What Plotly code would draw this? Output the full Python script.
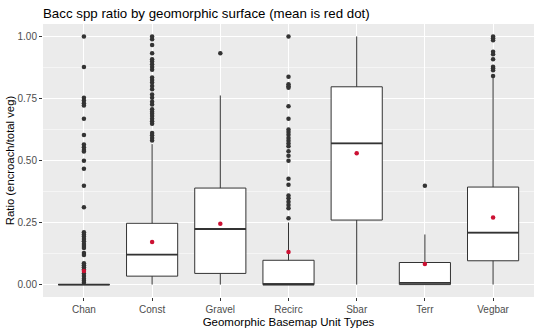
import plotly.graph_objects as go

# Geomorphic unit categories
units = ["Chan", "Const", "Gravel", "Recirc", "Sbar", "Terr", "Vegbar"]

# Box statistics per unit
q1 = [0.0, 0.034, 0.045, 0.0, 0.260, 0.0, 0.096]
median = [0.0, 0.121, 0.224, 0.0, 0.569, 0.007, 0.209]
q3 = [0.0, 0.247, 0.389, 0.098, 0.797, 0.089, 0.393]
lower_whisker = [0.0, 0.0, 0.0, 0.0, 0.0, 0.0, 0.0]
upper_whisker = [0.0, 0.566, 0.762, 0.250, 1.0, 0.202, 0.835]
mean = [0.055, 0.172, 0.245, 0.131, 0.529, 0.083, 0.270]

# Outlying observations per unit
outliers = {
    "Chan": [1.0, 0.877, 0.753, 0.742, 0.731, 0.722, 0.668, 0.603, 0.564, 0.553,
             0.542, 0.536, 0.499, 0.467, 0.398, 0.312, 0.211, 0.202, 0.194, 0.184,
             0.175, 0.164, 0.155, 0.147, 0.127, 0.119, 0.086, 0.078, 0.070, 0.061,
             0.045, 0.035, 0.024, 0.015, 0.007],
    "Const": [1.0, 0.989, 0.965, 0.932, 0.908, 0.899, 0.888, 0.877, 0.866, 0.834,
              0.824, 0.814, 0.800, 0.787, 0.766, 0.753, 0.737, 0.726, 0.706, 0.696,
              0.688, 0.679, 0.668, 0.658, 0.648, 0.611, 0.602, 0.591, 0.581],
    "Gravel": [0.932],
    "Recirc": [1.0, 0.837, 0.807, 0.799, 0.793, 0.719, 0.668, 0.625, 0.615, 0.604,
               0.591, 0.580, 0.569, 0.557, 0.537, 0.519, 0.499, 0.426, 0.402, 0.359,
               0.348, 0.334, 0.321, 0.308, 0.267],
    "Sbar": [],
    "Terr": [0.398],
    "Vegbar": [1.0, 0.993, 0.985, 0.938, 0.928, 0.908, 0.878, 0.872, 0.864, 0.840],
}

y_ticks = [0.0, 0.25, 0.5, 0.75, 1.0]
y_tick_text = ["0.00", "0.25", "0.50", "0.75", "1.00"]

BOX_WIDTH = 0.75
LINE = "#333333"

fig = go.Figure()

positions = list(range(len(units)))

# Boxes from precomputed statistics
fig.add_trace(go.Box(
    x=positions,
    q1=q1, median=median, q3=q3,
    lowerfence=lower_whisker, upperfence=upper_whisker,
    width=BOX_WIDTH,
    fillcolor="white",
    line=dict(color=LINE, width=1),
    whiskerwidth=0,
    boxpoints=False,
    hoverinfo="skip",
    showlegend=False,
))

# Thicker median segments
med_x, med_y = [], []
for i, m in enumerate(median):
    med_x += [i - BOX_WIDTH / 2, i + BOX_WIDTH / 2, None]
    med_y += [m, m, None]
fig.add_trace(go.Scatter(
    x=med_x, y=med_y, mode="lines",
    line=dict(color=LINE, width=1.8),
    hoverinfo="skip", showlegend=False,
))

# Outlier points
out_x, out_y = [], []
for i, u in enumerate(units):
    out_x += [i] * len(outliers[u])
    out_y += outliers[u]
fig.add_trace(go.Scatter(
    x=out_x, y=out_y, mode="markers",
    marker=dict(color="#333333", size=4.5),
    showlegend=False,
))

# Group means
fig.add_trace(go.Scatter(
    x=positions, y=mean, mode="markers",
    marker=dict(color="#CC1133", size=4.5),
    showlegend=False,
))

FONT = "Liberation Sans, Arial, sans-serif"

fig.update_layout(
    width=540, height=333,
    margin=dict(l=43, r=6, t=24, b=36),
    paper_bgcolor="white",
    plot_bgcolor="#EBEBEB",
    font=dict(family=FONT, color="black"),
    title=dict(
        text="Bacc spp ratio by geomorphic surface (mean is red dot)",
        x=43 / 540, xanchor="left", y=1 - 13 / 333, yanchor="middle",
        font=dict(size=13.3, color="black", family=FONT),
    ),
    xaxis=dict(
        range=[-0.6, len(units) - 0.4],
        tickmode="array", tickvals=positions, ticktext=units,
        ticks="outside", ticklen=3, tickcolor=LINE, tickwidth=1,
        tickfont=dict(size=10, color="#4D4D4D"),
        showgrid=True, gridcolor="white", gridwidth=1,
        zeroline=False, showline=False,
        title=dict(text="Geomorphic Basemap Unit Types",
                   font=dict(size=11.5, color="black"), standoff=3),
    ),
    yaxis=dict(
        range=[-0.05, 1.05],
        tickmode="array", tickvals=y_ticks, ticktext=y_tick_text,
        ticks="outside", ticklen=3, tickcolor=LINE, tickwidth=1,
        tickfont=dict(size=10, color="#4D4D4D"),
        showgrid=True, gridcolor="white", gridwidth=1,
        minor=dict(tickvals=[0.125, 0.375, 0.625, 0.875],
                   showgrid=True, gridcolor="#F5F5F5", gridwidth=0.6, ticks=""),
        zeroline=False, showline=False,
        title=dict(text="Ratio (encroach/total veg)",
                   font=dict(size=11.3, color="black"), standoff=0),
    ),
)

fig.write_html("out.html")
